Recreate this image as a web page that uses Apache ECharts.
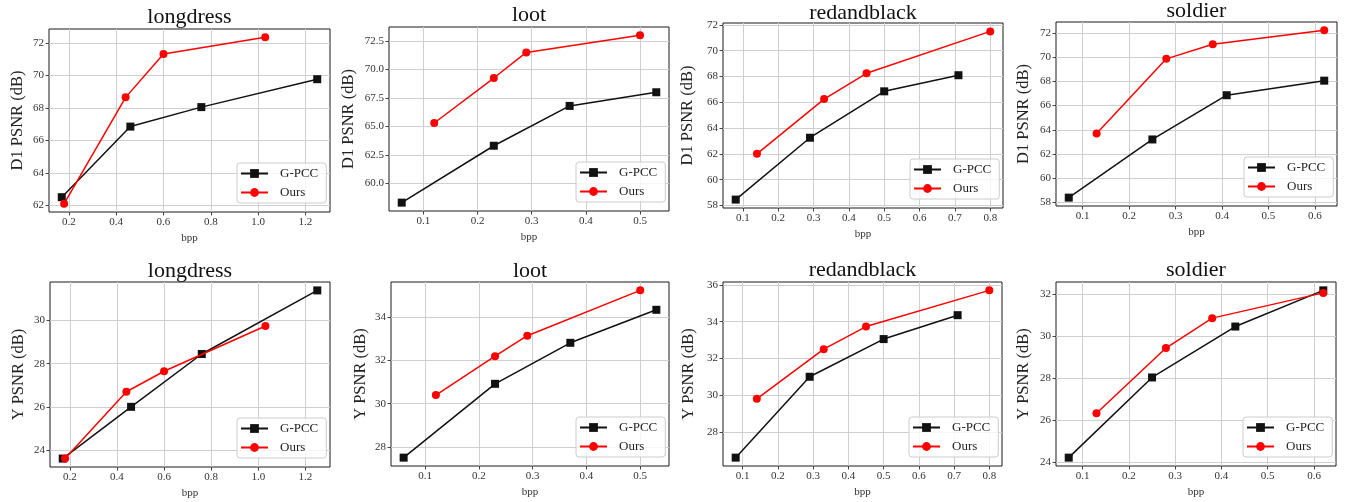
<!DOCTYPE html>
<html>
<head>
<meta charset="utf-8">
<title>PSNR vs bpp</title>
<script src="https://cdn.jsdelivr.net/npm/echarts@6/dist/echarts.min.js"></script>
<style>
    html, body { margin: 0; padding: 0; background: #fff; }
    #main { width: 1353px; height: 502px; }
</style>
</head>
<body>
<div id="main"></div>
<script>
    // 数据 [bpp, PSNR]
    var longdressD1Gpcc = [[0.17, 62.5], [0.46, 66.85], [0.76, 68.05], [1.25, 69.77]];
    var longdressD1Ours = [[0.18, 62.1], [0.44, 68.65], [0.60, 71.32], [1.03, 72.35]];
    var lootD1Gpcc = [[0.06, 58.3], [0.23, 63.3], [0.37, 66.8], [0.53, 68.0]];
    var lootD1Ours = [[0.12, 65.3], [0.23, 69.25], [0.29, 71.5], [0.50, 73.0]];
    var redandblackD1Gpcc = [[0.08, 58.45], [0.29, 63.25], [0.50, 66.85], [0.71, 68.1]];
    var redandblackD1Ours = [[0.14, 62.0], [0.33, 66.25], [0.45, 68.25], [0.80, 71.5]];
    var soldierD1Gpcc = [[0.07, 58.4], [0.25, 63.2], [0.41, 66.85], [0.62, 68.05]];
    var soldierD1Ours = [[0.13, 63.7], [0.28, 69.85], [0.38, 71.05], [0.62, 72.2]];

    var longdressYGpcc = [[0.17, 23.6], [0.46, 26.0], [0.76, 28.45], [1.25, 31.4]];
    var longdressYOurs = [[0.18, 23.6], [0.44, 26.7], [0.60, 27.65], [1.03, 29.75]];
    var lootYGpcc = [[0.06, 27.5], [0.23, 30.92], [0.37, 32.82], [0.53, 34.35]];
    var lootYOurs = [[0.12, 30.4], [0.23, 32.2], [0.29, 33.15], [0.50, 35.25]];
    var redandblackYGpcc = [[0.08, 26.6], [0.29, 31.0], [0.50, 33.05], [0.71, 34.35]];
    var redandblackYOurs = [[0.14, 29.8], [0.33, 32.5], [0.45, 33.73], [0.80, 35.7]];
    var soldierYGpcc = [[0.07, 24.22], [0.25, 28.03], [0.43, 30.45], [0.62, 32.17]];
    var soldierYOurs = [[0.13, 26.33], [0.28, 29.43], [0.38, 30.85], [0.62, 32.05]];

    // 刻度
    var xTicksLongdress = [0.2, 0.4, 0.6, 0.8, 1.0, 1.2];
    var xTicksLoot = [0.1, 0.2, 0.3, 0.4, 0.5];
    var xTicksRedandblack = [0.1, 0.2, 0.3, 0.4, 0.5, 0.6, 0.7, 0.8];
    var xTicksSoldier = [0.1, 0.2, 0.3, 0.4, 0.5, 0.6];
    var yTicksLongdressD1 = [62, 64, 66, 68, 70, 72];
    var yTicksLootD1 = [60, 62.5, 65, 67.5, 70, 72.5];
    var yTicksRedandblackD1 = [58, 60, 62, 64, 66, 68, 70, 72];
    var yTicksSoldierD1 = [58, 60, 62, 64, 66, 68, 70, 72];
    var yTicksLongdressY = [24, 26, 28, 30];
    var yTicksLootY = [28, 30, 32, 34];
    var yTicksRedandblackY = [28, 30, 32, 34, 36];
    var yTicksSoldierY = [24, 26, 28, 30, 32];

    var titles = ['longdress', 'loot', 'redandblack', 'soldier'];
    var yNames = ['D1 PSNR (dB)', 'Y PSNR (dB)'];

    var panels = [
        { title: titles[0], yName: yNames[0], gpcc: longdressD1Gpcc, ours: longdressD1Ours, xt: xTicksLongdress, yt: yTicksLongdressD1, yDec: 0,
          box: [49, 29, 281, 183], titleY: 15, nameGap: 23 },
        { title: titles[1], yName: yNames[0], gpcc: lootD1Gpcc, ours: lootD1Ours, xt: xTicksLoot, yt: yTicksLootD1, yDec: 1,
          box: [389, 27, 280, 184], titleY: 13, nameGap: 32 },
        { title: titles[2], yName: yNames[0], gpcc: redandblackD1Gpcc, ours: redandblackD1Ours, xt: xTicksRedandblack, yt: yTicksRedandblackD1, yDec: 0,
          box: [723, 23, 280, 185], titleY: 11, nameGap: 27 },
        { title: titles[3], yName: yNames[0], gpcc: soldierD1Gpcc, ours: soldierD1Ours, xt: xTicksSoldier, yt: yTicksSoldierD1, yDec: 0,
          box: [1056, 22, 281, 184], titleY: 8.5, nameGap: 24 },
        { title: titles[0], yName: yNames[1], gpcc: longdressYGpcc, ours: longdressYOurs, xt: xTicksLongdress, yt: yTicksLongdressY, yDec: 0,
          box: [50, 282, 280, 185], titleY: 269, nameGap: 23 },
        { title: titles[1], yName: yNames[1], gpcc: lootYGpcc, ours: lootYOurs, xt: xTicksLoot, yt: yTicksLootY, yDec: 0,
          box: [391, 282, 278, 184], titleY: 269, nameGap: 22 },
        { title: titles[2], yName: yNames[1], gpcc: redandblackYGpcc, ours: redandblackYOurs, xt: xTicksRedandblack, yt: yTicksRedandblackY, yDec: 0,
          box: [723, 282, 279, 184], titleY: 268, nameGap: 26 },
        { title: titles[3], yName: yNames[1], gpcc: soldierYGpcc, ours: soldierYOurs, xt: xTicksSoldier, yt: yTicksSoldierY, yDec: 0,
          box: [1056, 282, 280, 184], titleY: 268, nameGap: 24 }
    ];

    var FONT = 'Liberation Serif';
    var INK = '#1a1a1a';

    // matplotlib 默认 5% 边距
    function padRange(a, b, k) {
        var vals = a.concat(b).map(function (d) { return d[k]; });
        var lo = Math.min.apply(null, vals), hi = Math.max.apply(null, vals);
        var m = (hi - lo) * 0.05;
        return [lo - m, hi + m];
    }

    function axisCommon(ticks, dec) {
        return {
            axisLine: { show: false },
            axisTick: { show: true, length: 3.5, customValues: ticks, lineStyle: { color: INK, width: 0.8 } },
            axisLabel: {
                customValues: ticks, margin: 5, color: '#333', fontFamily: FONT, fontSize: 11,
                formatter: function (v) { return v.toFixed(dec); }
            },
            splitLine: { show: true, lineStyle: { color: '#cfcfcf', width: 1 } }
        };
    }

    var option = { backgroundColor: '#fff', animation: false, title: [], grid: [], xAxis: [], yAxis: [], legend: [], series: [] };

    panels.forEach(function (p, i) {
        var b = p.box;
        var xr = padRange(p.gpcc, p.ours, 0), yr = padRange(p.gpcc, p.ours, 1);

        option.title.push({
            text: p.title, left: b[0] + b[2] / 2, top: p.titleY - 8.5, textAlign: 'center', padding: 0,
            textStyle: { fontFamily: FONT, fontSize: 22, fontWeight: 'normal', color: '#111' }
        });
        option.grid.push({
            left: b[0], top: b[1], width: b[2], height: b[3],
            show: true, borderColor: INK, borderWidth: 1, backgroundColor: 'transparent'
        });
        option.xAxis.push(Object.assign({
            type: 'value', gridIndex: i, min: xr[0], max: xr[1],
            name: 'bpp', nameLocation: 'middle', nameGap: 21,
            nameTextStyle: { fontFamily: FONT, fontSize: 11, color: '#333' }
        }, axisCommon(p.xt, 1)));
        option.yAxis.push(Object.assign({
            type: 'value', gridIndex: i, min: yr[0], max: yr[1],
            name: p.yName, nameLocation: 'middle', nameGap: p.nameGap,
            nameTextStyle: { fontFamily: FONT, fontSize: 16.5, color: '#222' }
        }, axisCommon(p.yt, p.yDec)));
        option.legend.push({
            data: ['G-PCC', 'Ours'], orient: 'vertical', selectedMode: false,
            left: b[0] + b[2] - 93, top: b[1] + b[3] - 49,
            padding: [4, 8, 4, 3], itemWidth: 27, itemHeight: 11, itemGap: 6,
            backgroundColor: 'rgba(255,255,255,0.8)', borderColor: '#cccccc', borderWidth: 1, borderRadius: 3,
            textStyle: { fontFamily: FONT, fontSize: 13, color: '#222', padding: [0, 0, 0, 7] }
        });
        option.series.push({
            name: 'G-PCC', type: 'line', xAxisIndex: i, yAxisIndex: i, data: p.gpcc,
            symbol: 'rect', symbolSize: 8, color: '#111', lineStyle: { width: 1.5, color: '#111' }, z: 2
        });
        option.series.push({
            name: 'Ours', type: 'line', xAxisIndex: i, yAxisIndex: i, data: p.ours,
            symbol: 'circle', symbolSize: 8, color: '#ff0000', lineStyle: { width: 1.5, color: '#ff0000' }, z: 3
        });
    });

    var chart = echarts.init(document.getElementById('main'), null, { renderer: 'canvas' });
    chart.setOption(option);
</script>
</body>
</html>
